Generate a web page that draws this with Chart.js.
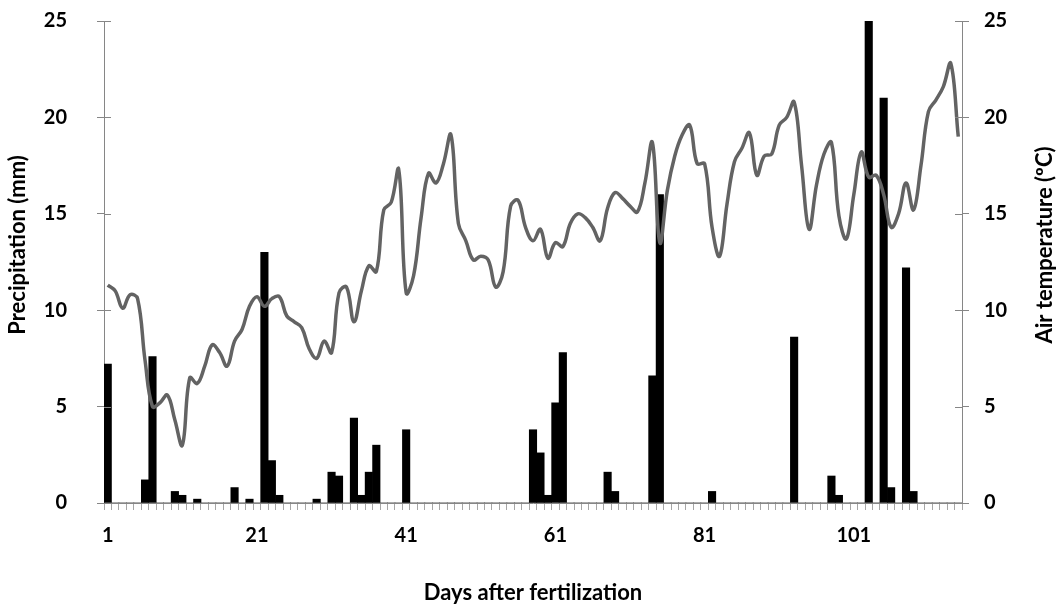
<!DOCTYPE html>
<html>
<head>
<meta charset="utf-8">
<script src="https://cdn.jsdelivr.net/npm/chart.js@4"></script>
<style>
  body { margin: 0; background: #fff; }
  #wrap { width: 1059px; height: 606px; }
</style>
</head>
<body>
<div id="wrap"><canvas id="chart" width="1059" height="606"></canvas></div>
<script>
const days = Array.from({ length: 115 }, (_, i) => String(i + 1));

const precipitation = [
  7.2, 0, 0, 0, 0, 1.2, 7.6, 0, 0, 0.6,
  0.4, 0, 0.2, 0, 0, 0, 0, 0.8, 0, 0.2,
  0, 13.0, 2.2, 0.4, 0, 0, 0, 0, 0.2, 0,
  1.6, 1.4, 0, 4.4, 0.4, 1.6, 3.0, 0, 0, 0,
  3.8, 0, 0, 0, 0, 0, 0, 0, 0, 0,
  0, 0, 0, 0, 0, 0, 0, 3.8, 2.6, 0.4,
  5.2, 7.8, 0, 0, 0, 0, 0, 1.6, 0.6, 0,
  0, 0, 0, 6.6, 16.0, 0, 0, 0, 0, 0,
  0, 0.6, 0, 0, 0, 0, 0, 0, 0, 0,
  0, 0, 8.6, 0, 0, 0, 0, 1.4, 0.4, 0,
  0, 0, 25.0, 0, 21.0, 0.8, 0, 12.2, 0.6, 0,
  0, 0, 0, 0, 0
];

const airTemperature = [
  11.3, 11.0, 10.1, 10.8, 10.6, 7.4, 5.0, 5.2, 5.6, 4.3,
  3.0, 6.5, 6.2, 7.1, 8.2, 7.8, 7.1, 8.4, 9.0, 10.2,
  10.7, 10.2, 10.6, 10.7, 9.7, 9.4, 9.1, 8.0, 7.5, 8.4,
  7.8, 10.9, 11.2, 9.4, 11.0, 12.3, 12.0, 15.2, 15.6, 17.3,
  10.9, 11.8, 14.8, 17.1, 16.6, 17.6, 19.1, 14.5, 13.6, 12.6,
  12.8, 12.6, 11.2, 12.0, 15.4, 15.7, 14.3, 13.6, 14.2, 12.7,
  13.5, 13.3, 14.5, 15.0, 14.8, 14.3, 13.6, 15.3, 16.1, 15.8,
  15.4, 15.1, 16.6, 18.7, 13.5, 16.2, 18.0, 19.1, 19.6, 17.6,
  17.6, 14.3, 12.8, 15.5, 17.7, 18.4, 19.2, 17.0, 18.0, 18.1,
  19.6, 20.0, 20.8, 17.5, 14.2, 16.5, 18.1, 18.7, 14.9, 13.7,
  16.0, 18.2, 16.9, 17.0, 16.0, 14.3, 15.0, 16.6, 15.2, 17.5,
  20.3, 20.9, 21.6, 22.8, 19.0
];

const yTicks = [0, 5, 10, 15, 20, 25];
const xLabelEvery = 20;

const FONT = "Lato, 'Open Sans', sans-serif";
const axisGray = "#868686";
const tickGray = "#a6a6a6";

// y ticks cross the axis line; both side titles read bottom-to-top
const extras = {
  id: "extras",
  afterDraw(chart) {
    const ctx = chart.ctx;
    const area = chart.chartArea;
    ctx.save();
    ctx.strokeStyle = axisGray;
    ctx.lineWidth = 1;
    ["y", "y1"].forEach((id) => {
      const s = chart.scales[id];
      const x = id === "y" ? area.left : area.right;
      const dir = id === "y" ? 1 : -1;
      yTicks.forEach((v) => {
        const py = Math.round(s.getPixelForValue(v)) + 0.5;
        ctx.beginPath();
        ctx.moveTo(x, py);
        ctx.lineTo(x + dir * 7, py);
        ctx.stroke();
      });
    });
    ctx.font = "bold 22px " + FONT;
    ctx.fillStyle = "#000";
    ctx.textAlign = "center";
    ctx.textBaseline = "middle";
    [["Precipitation (mm)", 18], ["Air temperature (ºC)", 1045]].forEach(([text, x]) => {
      ctx.save();
      ctx.translate(x, 245);
      ctx.rotate(-Math.PI / 2);
      ctx.fillText(text, 0, 0);
      ctx.restore();
    });
    ctx.restore();
  },
};

const fixY = (w) => (s) => {
  s.width = w;
  s.paddingTop = 0;
  s.paddingBottom = 0;
};

new Chart(document.getElementById("chart"), {
  data: {
    labels: days,
    datasets: [
      {
        type: "line",
        label: "Air temperature",
        data: airTemperature,
        yAxisID: "y1",
        borderColor: "#636363",
        borderWidth: 3.5,
        pointRadius: 0,
        tension: 0.4,
        fill: false,
        order: 0,
      },
      {
        type: "bar",
        label: "Precipitation",
        data: precipitation,
        yAxisID: "y",
        backgroundColor: "#000",
        barPercentage: 1,
        categoryPercentage: 1,
        order: 1,
      },
    ],
  },
  options: {
    responsive: false,
    animation: false,
    layout: { padding: { top: 21, left: 0, right: 0, bottom: 0 } },
    plugins: {
      legend: { display: false },
      tooltip: { enabled: false },
    },
    scales: {
      x: {
        type: "category",
        offset: true,
        grid: {
          offset: true,
          drawOnChartArea: false,
          tickLength: 7,
          color: tickGray,
        },
        border: { color: axisGray, width: 1 },
        ticks: {
          autoSkip: false,
          maxRotation: 0,
          padding: 14,
          color: "#000",
          font: { family: FONT, size: 20, weight: "bold" },
          callback: (v, i) => (i % xLabelEvery === 0 ? days[i] : ""),
        },
        title: {
          display: true,
          text: "Days after fertilization",
          color: "#000",
          font: { family: FONT, size: 22, weight: "bold" },
          padding: { top: 0, bottom: 0 },
        },
        afterFit: (s) => { s.height = 103; },
      },
      y: {
        position: "left",
        min: 0,
        max: 25,
        afterBuildTicks: (s) => { s.ticks = yTicks.map((v) => ({ value: v })); },
        grid: { drawOnChartArea: false, tickLength: 7, color: axisGray },
        border: { color: axisGray, width: 1 },
        ticks: {
          padding: 30,
          color: "#000",
          font: { family: FONT, size: 20, weight: "bold" },
        },
        afterFit: fixY(104),
      },
      y1: {
        position: "right",
        min: 0,
        max: 25,
        afterBuildTicks: (s) => { s.ticks = yTicks.map((v) => ({ value: v })); },
        grid: { drawOnChartArea: false, tickLength: 7, color: axisGray },
        border: { color: axisGray, width: 1 },
        ticks: {
          padding: 15,
          color: "#000",
          font: { family: FONT, size: 20, weight: "bold" },
        },
        afterFit: fixY(97),
      },
    },
  },
  plugins: [extras],
});
</script>
</body>
</html>
